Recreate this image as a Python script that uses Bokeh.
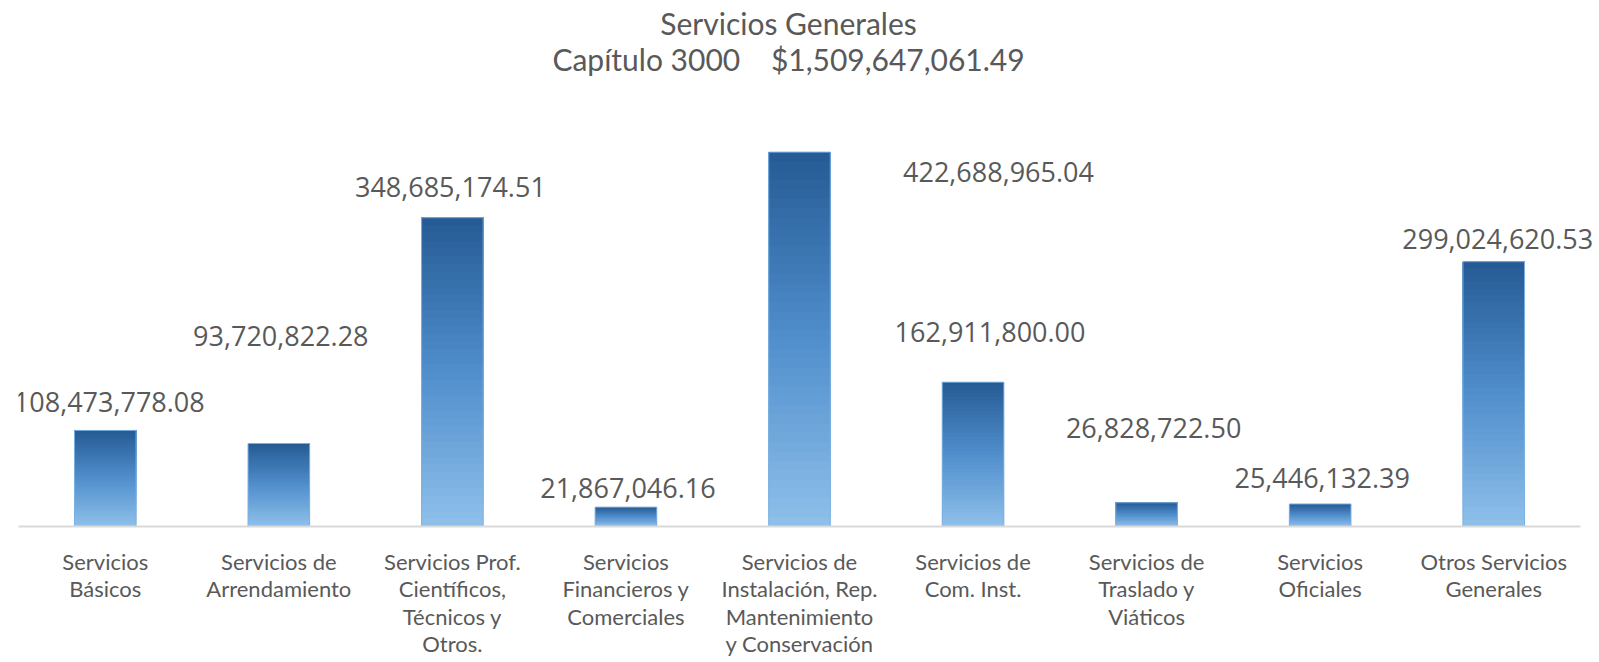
import numpy as np
from bokeh.plotting import figure
from bokeh.models import ColumnDataSource, Range1d, FixedTicker
from bokeh.embed import file_html
from bokeh.resources import INLINE
from bokeh.core.properties import value

# ---- data ----
categories = [
    "Servicios\nBásicos",
    "Servicios de\nArrendamiento",
    "Servicios Prof.\nCientíficos,\nTécnicos y\nOtros.",
    "Servicios\nFinancieros y\nComerciales",
    "Servicios de\nInstalación, Rep.\nMantenimiento\ny Conservación",
    "Servicios de\nCom. Inst.",
    "Servicios de\nTraslado y\nViáticos",
    "Servicios\nOficiales",
    "Otros Servicios\nGenerales",
]
values = [108473778.08, 93720822.28, 348685174.51, 21867046.16, 422688965.04,
          162911800.00, 26828722.50, 25446132.39, 299024620.53]
title_lines = ["Servicios Generales",
               "Capítulo 3000\u00a0\u00a0\u00a0\u00a0$1,509,647,061.49"]

# ---- styling (label nudges in screen px, up = positive) ----
label_dx = [4, 2, -2, 2, 199, 17, 7, 2, 4]
label_dy = [28, 107, 31, 19, -20, 50, 75, 26, 23]
title_dx = -11
title_dy = [22.5, 58]

n = len(values)
x = np.arange(n)
vals = np.array(values)

W, H = 1599, 662
left_border = 18
bottom_border = 136
axis_px = 1562                       # width covered by the category axis
px_per_unit = 434 / 490e6            # vertical scale
x_end = -0.5 + n * (W - left_border) / axis_px
y_end = (H - bottom_border) / px_per_unit

p = figure(width=W, height=H, x_range=Range1d(-0.5, x_end),
           y_range=Range1d(0, y_end),
           output_backend="svg", toolbar_location=None,
           min_border_left=left_border, min_border_right=0,
           min_border_top=0, min_border_bottom=bottom_border)
p.outline_line_color = None
p.background_fill_color = "white"
p.border_fill_color = "white"
p.xgrid.visible = False
p.ygrid.visible = False
p.yaxis.visible = False

# gradient bars: overlapping slices, bottom (light) to top (dark)
N = 40
stops = [(0.0, (0x8f, 0xc0, 0xea)), (0.5, (0x50, 0x8e, 0xcc)), (1.0, (0x25, 0x5b, 0x94))]
def col(t):
    for (t0, c0), (t1, c1) in zip(stops[:-1], stops[1:]):
        if t <= t1:
            f = (t - t0) / (t1 - t0)
            c = [int(round(a + (b - a) * f)) for a, b in zip(c0, c1)]
            return "#%02x%02x%02x" % tuple(c)
    return "#%02x%02x%02x" % stops[-1][1]

xs, bots, tops, cols = [], [], [], []
for k in range(N):
    for i, v in zip(x, vals):
        xs.append(i)
        bots.append(v * k / N)
        tops.append(v)
        cols.append(col((k + 0.5) / N))
p.vbar(x=xs, bottom=bots, top=tops, width=0.355, fill_color=cols, line_color=None)
p.vbar(x=x, top=vals, width=0.355, fill_color=None, line_color="#7cb0e2", line_width=1)

# value labels
src = ColumnDataSource(dict(x=x, y=vals, txt=[f"{v:,.2f}" for v in values],
                            dx=label_dx, dy=[-d for d in label_dy]))
p.text(x="x", y="y", text="txt", source=src, x_offset="dx", y_offset="dy",
       text_align="center", text_baseline="middle", text_font=value("Open Sans"),
       text_font_size="27px", text_color="#595959")

# two-line title, centred over the chart
tsrc = ColumnDataSource(dict(x=[(n - 1) / 2] * 2, y=[y_end] * 2, txt=title_lines,
                             dy=title_dy))
p.text(x="x", y="y", text="txt", source=tsrc, x_offset=title_dx, y_offset="dy",
       text_align="center", text_baseline="middle", text_font=value("Lato"),
       text_font_size="30px", text_color="#595959")

ax = p.xaxis[0]
ax.ticker = FixedTicker(ticks=list(range(n)))
ax.bounds = (-0.5, n - 0.5)
ax.major_label_overrides = {i: c for i, c in enumerate(categories)}
ax.major_tick_line_color = None
ax.minor_tick_line_color = None
ax.axis_line_color = "#d9d9d9"
ax.axis_line_width = 2
ax.major_label_text_font = "Lato"
ax.major_label_text_font_size = "22px"
ax.major_label_text_color = "#595959"
ax.major_label_text_line_height = 1.02
ax.major_label_standoff = 15

open("out.html", "w").write(file_html(p, INLINE))
